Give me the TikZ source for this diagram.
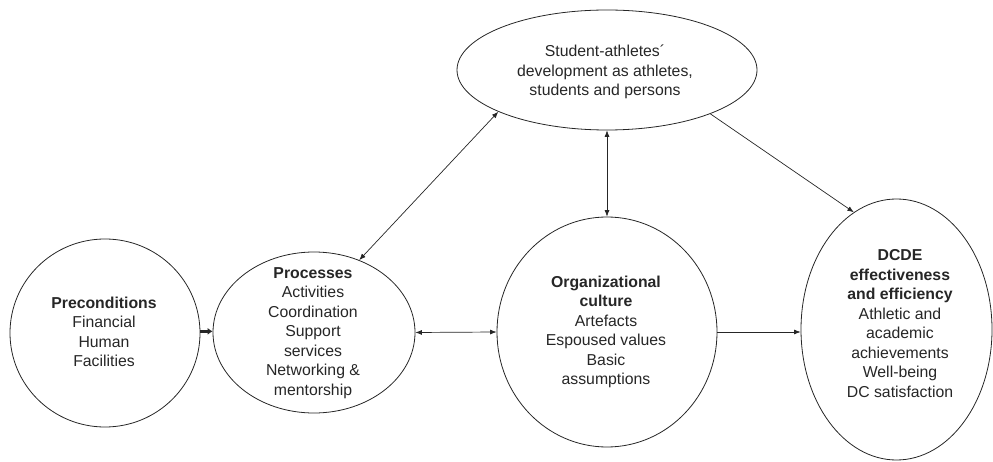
\documentclass[tikz,border=0pt]{standalone}
\usepackage{fontspec}
\setmainfont{Liberation Sans}
\usetikzlibrary{shapes.geometric,arrows.meta}
\begin{document}
\begin{tikzpicture}[x=1pt,y=-1pt,
  bubble/.style={draw=black!85, line width=0.8pt, ellipse, inner sep=0pt},
  txt/.style={align=center, font=\fontsize{15.8}{19.5}\selectfont, text=black!85, inner sep=0pt},
  link/.style={draw=black!85, line width=0.7pt, {Latex[length=6.5pt,width=5pt]}-{Latex[length=6.5pt,width=5pt]}},
  lead/.style={draw=black!85, line width=0.7pt, -{Latex[length=6.5pt,width=5pt]}},
  feed/.style={draw=black!85, line width=2.6pt, -{Latex[length=5pt,width=7pt]}},
]
\useasboundingbox (0,0) rectangle (993,462);

% outlines
\node[bubble, minimum width=190pt, minimum height=188pt] (pre)  at (105,333) {};
\node[bubble, minimum width=202pt, minimum height=161pt] (proc) at (314,332.5) {};
\node[bubble, minimum width=220pt, minimum height=230pt] (org)  at (607,332) {};
\node[bubble, minimum width=191pt, minimum height=261pt] (dcde) at (896.5,329.5) {};
\node[bubble, minimum width=300pt, minimum height=120pt] (top)  at (607,70) {};

% texts
\node[txt] (pretext)  at (104,332) {\textbf{Preconditions}\\Financial\\Human\\Facilities};
\node[txt] (proctext) at (313,333) {\textbf{Processes}\\Activities\\Coordination\\Support\\services\\Networking \&\\mentorship};
\node[txt] (orgtext)  at (606,332) {\textbf{Organizational}\\\textbf{culture}\\Artefacts\\Espoused values\\Basic\\assumptions};
\node[txt] (dcdetext) at (900,323.5) {\textbf{DCDE}\\\textbf{effectiveness}\\\textbf{and efficiency}\\Athletic and\\academic\\achievements\\Well-being\\DC satisfaction};
\node[txt] (toptext)  at (605,72) {Student-athletes´\\development as athletes,\\students and persons};

% connectors
\draw[feed] (pre.1.5) -- (pre.1.5 -| proc.west);
\draw[link] (proc.east) -- (org.west);
\draw[lead] (org.east) -- (org.east -| dcde.west);
\draw[link] (top.201.7) -- (proc.58.8);
\draw[link] (top.south) -- (org.north);
\draw[lead] (top.337.7) -- (dcde.110.5);
\end{tikzpicture}
\end{document}
